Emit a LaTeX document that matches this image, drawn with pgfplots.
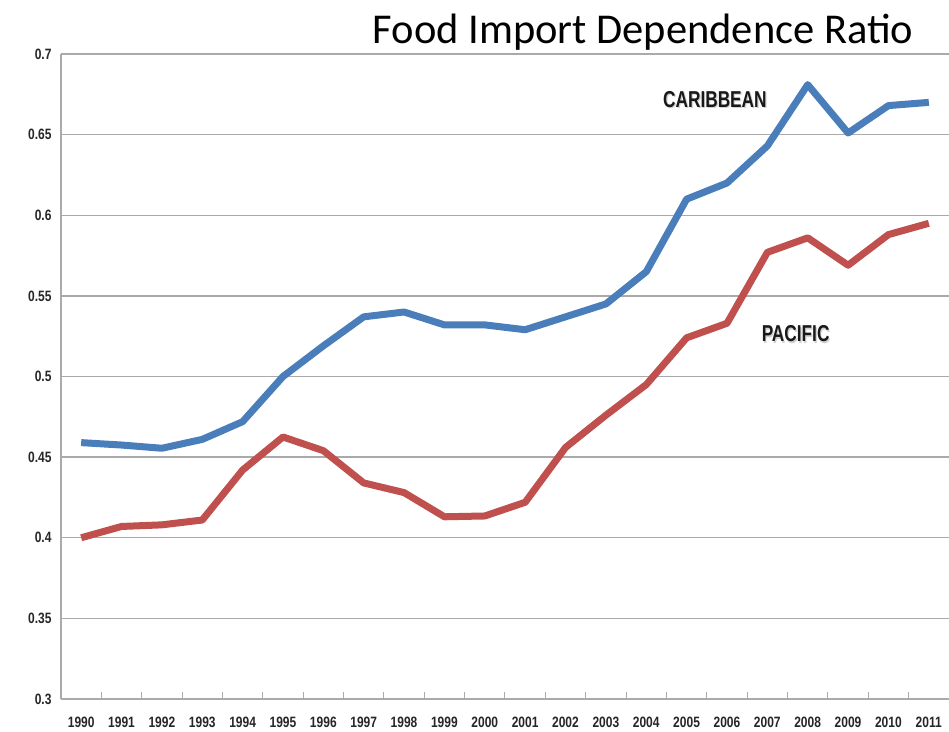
\documentclass[border=0pt]{standalone}
\usepackage{pgfplots}
\pgfplotsset{compat=1.18}
\usepackage{fontspec}
\setmainfont{Carlito}
\newfontfamily\tickfont[FakeStretch=0.8]{Liberation Sans Bold}
\newfontfamily\labfont[FakeStretch=0.75]{Liberation Sans Bold}
\definecolor{carib}{RGB}{74,126,187}
\definecolor{pacif}{RGB}{192,80,77}
\definecolor{gridg}{RGB}{170,170,170}
\pgfplotstableread{
year carib pacif
1990 0.459 0.400
1991 0.4575 0.407
1992 0.4555 0.408
1993 0.461 0.411
1994 0.472 0.442
1995 0.500 0.4625
1996 0.519 0.454
1997 0.537 0.434
1998 0.540 0.428
1999 0.532 0.413
2000 0.532 0.4135
2001 0.529 0.422
2002 0.537 0.456
2003 0.545 0.476
2004 0.565 0.495
2005 0.610 0.524
2006 0.620 0.533
2007 0.643 0.577
2008 0.681 0.586
2009 0.651 0.569
2010 0.668 0.588
2011 0.670 0.595
}\datatable
\begin{document}
\begin{tikzpicture}
\path[use as bounding box] (-61pt,-32pt) rectangle (888pt,699pt);
\begin{axis}[
  at={(0pt,0pt)}, anchor=origin,
  scale only axis, width=888pt, height=645pt,
  xmin=1989.5, xmax=2011.5, ymin=0.3, ymax=0.7,
  axis x line*=bottom, axis y line*=left,
  axis line style={gridg, line width=1.5pt},
  xtick={1990,...,2011},
  xticklabels={1990,1991,1992,1993,1994,1995,1996,1997,1998,1999,2000,2001,2002,2003,2004,2005,2006,2007,2008,2009,2010,2011},
  minor xtick={1990.5,1991.5,...,2010.5},
  major x tick style={draw=none},
  minor x tick style={gridg, line width=1pt},
  minor tick length=7pt,
  tick align=inside,
  ytick={0.3,0.35,0.4,0.45,0.5,0.55,0.6,0.65,0.7},
  yticklabels={0.3,0.35,0.4,0.45,0.5,0.55,0.6,0.65,0.7},
  major y tick style={draw=none},
  ymajorgrids,
  major grid style={gridg, line width=1.3pt},
  tick label style={font=\tickfont\fontsize{15}{17}\selectfont, text=black!85},
  /pgf/number format/assume math mode=true,
  xticklabel style={yshift=-14pt},
  yticklabel style={xshift=-6pt},
  clip=false,
]
\addplot[carib, line width=7pt, line join=round] table[x=year, y=carib] {\datatable};
\addplot[pacif, line width=7pt, line join=round] table[x=year, y=pacif] {\datatable};
\node[font=\labfont\fontsize{23}{25}\selectfont, text=black!18, xshift=1.2pt, yshift=-1.2pt] at (axis cs:2005.7,0.6716) {CARIBBEAN};
\node[font=\labfont\fontsize{23}{25}\selectfont, text=black!90] at (axis cs:2005.7,0.6716) {CARIBBEAN};
\node[font=\labfont\fontsize{23}{25}\selectfont, text=black!18, xshift=1.2pt, yshift=-1.2pt] at (axis cs:2007.7,0.5264) {PACIFIC};
\node[font=\labfont\fontsize{23}{25}\selectfont, text=black!90] at (axis cs:2007.7,0.5264) {PACIFIC};
\node[font=\fontsize{42.5}{46}\selectfont, anchor=base] at (rel axis cs:0.6555,1) [yshift=10pt] {Food Import Dependence Ratio};
\end{axis}
\end{tikzpicture}
\end{document}
